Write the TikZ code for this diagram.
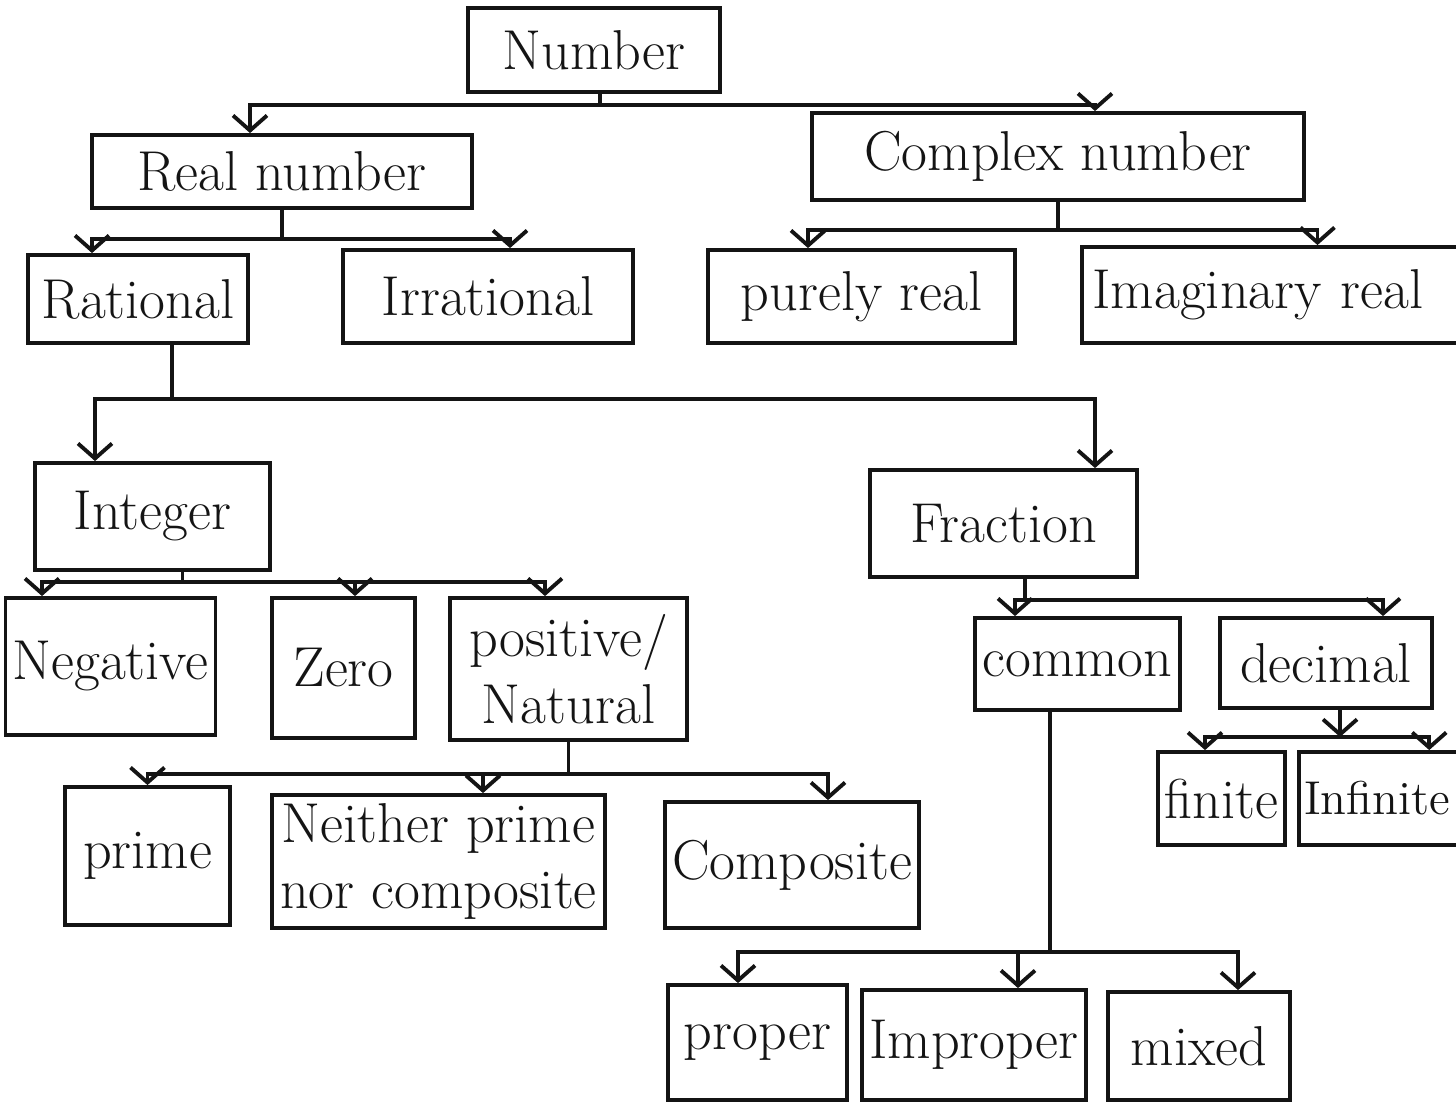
\documentclass[tikz,border=0pt]{standalone}
\usepackage{tikz}
\usetikzlibrary{arrows.meta, positioning, calc}
\definecolor{inkdark}{RGB}{20,20,20}
\tikzset{
  box/.style={rectangle, draw=inkdark, line width=1.1pt, align=center,
    inner sep=2pt, font=\fontsize{16}{19}\selectfont, text=inkdark},
  edgebox/.style={box, align=left, inner sep=3pt, anchor=west},
  arrow/.style={-{Straight Barb[length=1.5mm, width=3.4mm]}, line width=1.1pt, color=inkdark},
  line/.style={line width=1.1pt, color=inkdark}
}
\begin{document}
\begin{tikzpicture}
  \useasboundingbox (0,0) rectangle (14.56,-11.02);

  % Level 0 and 1
  \node[box, minimum width=2.52cm, minimum height=0.84cm] (num) at (5.94,-0.50) {Number};
  \node[box, minimum width=3.80cm, minimum height=0.73cm] (real) at (2.82,-1.715) {Real number};
  \node[box, minimum width=4.92cm, minimum height=0.87cm] (cplx) at (10.58,-1.565) {Complex number};

  % Level 2
  \node[box, minimum width=2.20cm, minimum height=0.88cm] (rat) at (1.38,-2.99) {Rational};
  \node[box, minimum width=2.90cm, minimum height=0.93cm] (irr) at (4.88,-2.965) {Irrational};
  \node[box, minimum width=3.07cm, minimum height=0.93cm] (pure) at (8.615,-2.965) {purely real};
  \node[edgebox, text width=4.1cm, minimum height=0.96cm] (imag) at (10.80,-2.95) {Imaginary real};

  % Level 3
  \node[box, minimum width=2.35cm, minimum height=1.07cm] (int) at (1.525,-5.165) {Integer};
  \node[box, minimum width=2.67cm, minimum height=1.07cm] (frac) at (10.035,-5.235) {Fraction};

  % Level 4: under Integer and Fraction
  \node[box, minimum width=2.10cm, minimum height=1.37cm] (neg) at (1.105,-6.665) {Negative};
  \node[box, minimum width=1.43cm, minimum height=1.40cm] (zero) at (3.435,-6.68) {Zero};
  \node[box, minimum width=2.37cm, minimum height=1.42cm] (pos) at (5.685,-6.69) {positive/\\Natural};
  \node[box, minimum width=2.05cm, minimum height=0.92cm] (com) at (10.775,-6.64) {common};
  \node[box, minimum width=2.12cm, minimum height=0.90cm] (dec) at (13.26,-6.63) {decimal};

  % Level 5
  \node[box, minimum width=1.65cm, minimum height=1.38cm] (prime) at (1.475,-8.56) {prime};
  \node[box, minimum width=3.33cm, minimum height=1.33cm] (neither) at (4.385,-8.615) {Neither prime\\nor composite};
  \node[box, minimum width=2.28cm, minimum height=1.26cm] (comp) at (7.92,-8.65) {Composite};
  \node[box, minimum width=1.27cm, minimum height=0.93cm, inner sep=0pt] (fin) at (12.215,-7.985) {finite};
  \node[edgebox, text width=1.9cm, minimum height=0.93cm, inner sep=1.5pt,
    font=\fontsize{13.5}{16}\selectfont] (infin) at (12.97,-7.985) {Infinite};

  % Level 6
  \node[box, minimum width=1.79cm, minimum height=1.15cm] (prop) at (7.575,-10.425) {proper};
  \node[box, minimum width=2.16cm, minimum height=1.10cm] (improp) at (9.74,-10.45) {Improper};
  \node[box, minimum width=1.82cm, minimum height=1.08cm] (mixed) at (11.99,-10.46) {mixed};

  % Number
  \draw[line] ([xshift=0.06cm]num.south) -- ++(0,-0.11) coordinate (b1);
  \draw[arrow] (b1) -| ([xshift=-0.32cm]real.north);
  \draw[arrow] (b1) -| ([xshift=0.37cm]cplx.north);

  % Real and Complex
  \draw[line] (real.south) -- ++(0,-0.29) coordinate (b2);
  \draw[arrow] (b2) -| ([xshift=-0.46cm]rat.north);
  \draw[arrow] (b2) -| ([xshift=0.22cm]irr.north);
  \draw[line] (cplx.south) -- ++(0,-0.28) coordinate (b3);
  \draw[arrow] (b3) -| ([xshift=-0.535cm]pure.north);
  \draw[arrow] (b3) -| ([xshift=0.2cm]imag.north);

  % Rational
  \draw[line] ([xshift=0.34cm]rat.south) -- ++(0,-0.54) coordinate (b4);
  \draw[arrow] (b4) -| ([xshift=-0.575cm]int.north);
  \draw[arrow] (b4) -| ([xshift=0.915cm]frac.north);

  % Integer
  \draw[line] ([xshift=0.30cm]int.south) -- ++(0,-0.10) coordinate (b5);
  \draw[arrow] (b5) -| ([xshift=-0.685cm]neg.north);
  \draw[arrow] (b5) -| ([xshift=0.115cm]zero.north);
  \draw[arrow] (b5) -| ([xshift=-0.235cm]pos.north);

  % Positive / Natural
  \draw[line] (pos.south) -- ++(0,-0.32) coordinate (b6);
  \draw[arrow] (b6) -| (prime.north);
  \draw[arrow] (b6) -| ([xshift=0.445cm]neither.north);
  \draw[arrow] (b6) -| ([xshift=0.36cm]comp.north);

  % Fraction
  \draw[line] ([xshift=0.215cm]frac.south) -- ++(0,-0.21) coordinate (b7);
  \draw[arrow] (b7) -| ([xshift=-0.625cm]com.north);
  \draw[arrow] (b7) -| ([xshift=0.57cm]dec.north);

  % Decimal
  \draw[arrow] ([xshift=0.14cm]dec.south) -- ++(0,-0.27) coordinate (b8);
  \draw[arrow] (b8) -| ([xshift=-0.165cm]fin.north);
  \draw[arrow] (b8) -| ([xshift=0.3cm]infin.north);

  % Common
  \draw[line] ([xshift=-0.275cm]com.south) -- ++(0,-2.40) coordinate (b9);
  \draw[arrow] (b9) -| ([xshift=-0.195cm]prop.north);
  \draw[arrow] (b9) -| ([xshift=0.44cm]improp.north);
  \draw[arrow] (b9) -| ([xshift=0.39cm]mixed.north);
\end{tikzpicture}
\end{document}
